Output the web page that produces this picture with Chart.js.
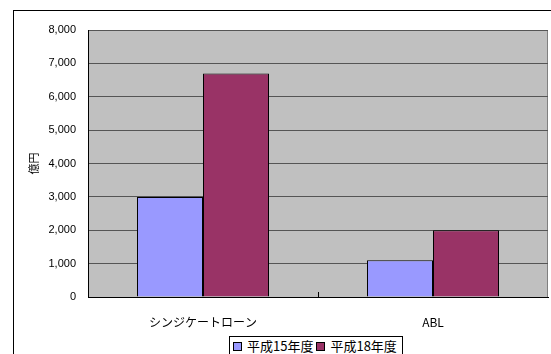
<!DOCTYPE html>
<html>
<head>
<meta charset="utf-8">
<script src="https://cdn.jsdelivr.net/npm/chart.js@4/dist/chart.umd.min.js"></script>
<style>
    html, body { margin: 0; padding: 0; background: #fff; overflow: hidden; }
    #wrap { position: relative; width: 551px; height: 354px; }
    #legend {
        position: absolute; left: 229px; top: 336px; width: 174px; height: 20px;
        border: 1px solid #000; background: #fff; box-sizing: border-box;
        font: 13px 'Noto Sans CJK JP', sans-serif; color: #000;
        display: flex; align-items: flex-start; padding: 1px 0 0 3px; line-height: 16px;
    }
    #legend span.item { display: inline-flex; align-items: center; margin-right: 3px; white-space: nowrap; }
    #legend span.box { display: inline-block; width: 7px; height: 7px; border: 1px solid #000; margin-right: 5px; }
</style>
</head>
<body>
<div id="wrap">
    <canvas id="chart" width="551" height="354"></canvas>
    <div id="legend"></div>
</div>
<script>
// Chart values
const categories = ['シンジケートローン', 'ABL'];
const seriesNames = ['平成15年度', '平成18年度'];
const valuesFy15 = [3000, 1100];
const valuesFy18 = [6700, 2000];
const seriesColors = ['#9999ff', '#993366'];
const yMax = 8000;
const yStep = 1000;
const yTitle = '億円';

/**
 * Plot area background, outer frame and inner tick marks between categories
 */
const pluginFrame = {
    id: 'frame',
    beforeDraw: function(chart) {
        'use strict';
        const ctx = chart.ctx;
        const a = chart.chartArea;
        ctx.save();
        ctx.fillStyle = '#c0c0c0';
        ctx.fillRect(a.left, a.top, a.right - a.left, a.bottom - a.top);
        ctx.strokeStyle = '#808080';
        ctx.lineWidth = 1;
        ctx.strokeRect(a.left + 0.5, a.top + 0.5, a.right - a.left - 1, a.bottom - a.top);
        ctx.strokeStyle = '#000';
        ctx.strokeRect(13.5, 10.5, 700, 700);
        ctx.restore();
    },
    afterDraw: function(chart) {
        'use strict';
        const ctx = chart.ctx;
        const x = chart.scales.x;
        const a = chart.chartArea;
        ctx.save();
        ctx.strokeStyle = '#000';
        ctx.lineWidth = 1;
        for (let i = 0; i < categories.length - 1; ++i) {
            const px = Math.round((x.getPixelForValue(i) + x.getPixelForValue(i + 1)) / 2) + 0.5;
            ctx.beginPath();
            ctx.moveTo(px, a.bottom);
            ctx.lineTo(px, a.bottom - 5);
            ctx.stroke();
        }
        ctx.restore();
    },
};

const chart = new Chart(document.getElementById('chart'), {
    type: 'bar',
    data: {
        labels: categories,
        datasets: [
            {label: seriesNames[0], data: valuesFy15, backgroundColor: seriesColors[0]},
            {label: seriesNames[1], data: valuesFy18, backgroundColor: seriesColors[1]},
        ].map((d) => Object.assign(d, {
            borderColor: '#000',
            borderWidth: 1,
            barPercentage: 1,
            categoryPercentage: 0.574,
        })),
    },
    options: {
        responsive: false,
        animation: false,
        layout: {padding: {left: 27, top: 30, right: 3, bottom: 0}},
        scales: {
            x: {
                afterFit: (s) => { s.height = 57; },
                grid: {display: false},
                border: {color: '#000', width: 1},
                ticks: {
                    color: '#000',
                    padding: 10,
                    font: {family: "'Noto Sans CJK JP', sans-serif", size: 12},
                },
            },
            y: {
                min: 0,
                max: yMax,
                afterFit: (s) => { s.width = 61; },
                grid: {color: '#555', drawTicks: false},
                border: {color: '#000', width: 1},
                ticks: {
                    stepSize: yStep,
                    color: '#000',
                    padding: 12,
                    font: {family: "'Liberation Sans', Arial, sans-serif", size: 11},
                    callback: (v) => v.toLocaleString('en-US'),
                },
                title: {
                    display: true,
                    text: yTitle,
                    color: '#000',
                    padding: {top: 0, bottom: 0},
                    font: {family: "'Noto Sans CJK JP', sans-serif", size: 11},
                },
            },
        },
        plugins: {
            legend: {display: false},
            tooltip: {enabled: false},
        },
    },
    plugins: [pluginFrame],
});

// Legend built from the datasets
const legend = document.getElementById('legend');
chart.data.datasets.forEach((d) => {
    const item = document.createElement('span');
    item.className = 'item';
    const box = document.createElement('span');
    box.className = 'box';
    box.style.background = d.backgroundColor;
    item.appendChild(box);
    item.appendChild(document.createTextNode(d.label));
    legend.appendChild(item);
});
</script>
</body>
</html>
